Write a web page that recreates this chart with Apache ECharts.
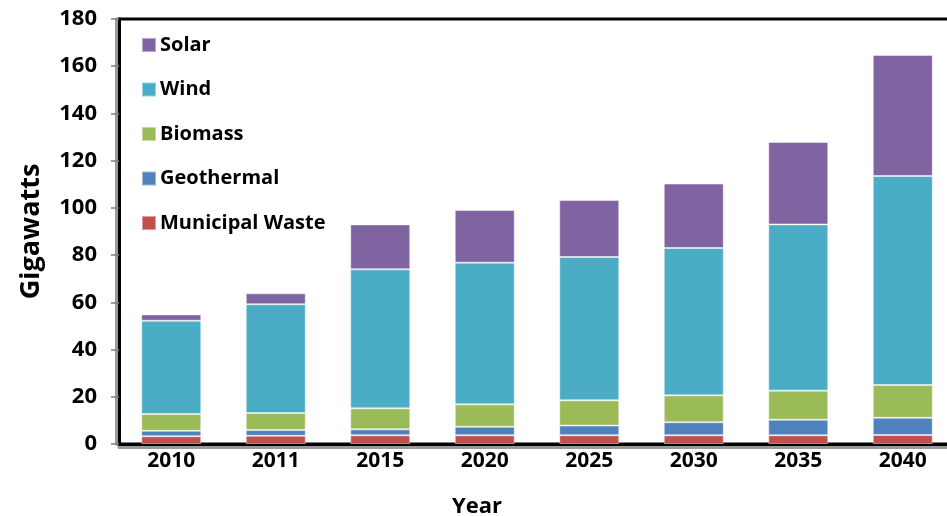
<!DOCTYPE html>
<html>
<head>
<meta charset="utf-8">
<script src="https://cdn.jsdelivr.net/npm/echarts@6/dist/echarts.min.js"></script>
<style>
  html, body { margin: 0; padding: 0; background: #fff; }
  #chart { width: 947px; height: 516px; }
</style>
</head>
<body>
<div id="chart"></div>
<script>
// Renewable generating capacity by source (gigawatts)
const years = ['2010', '2011', '2015', '2020', '2025', '2030', '2035', '2040'];
const municipalWaste = [3.3, 3.5, 3.7, 3.7, 3.7, 3.7, 3.7, 3.8];
const geothermal     = [2.3, 2.4, 2.5, 3.6, 4.1, 5.5, 6.6, 7.3];
const biomass        = [7.1, 7.2, 8.9, 9.5, 10.7, 11.4, 12.3, 13.9];
const wind           = [39.5, 46.1, 58.9, 60.0, 60.7, 62.4, 70.4, 88.5];
const solar          = [2.7, 4.6, 19.0, 22.3, 24.1, 27.3, 34.9, 51.3];
const yTicks = { min: 0, max: 180, step: 20 };

const FONT = 'Open Sans';

const sources = [
  { name: 'Municipal Waste', data: municipalWaste, color: '#C0504D' },
  { name: 'Geothermal',      data: geothermal,     color: '#4F81BD' },
  { name: 'Biomass',         data: biomass,        color: '#9BBB59' },
  { name: 'Wind',            data: wind,           color: '#4BACC6' },
  { name: 'Solar',           data: solar,          color: '#8064A2' }
];

const chart = echarts.init(document.getElementById('chart'), null, { renderer: 'canvas' });

chart.setOption({
  animation: false,
  backgroundColor: '#fff',
  textStyle: { fontFamily: FONT },
  grid: {
    left: 119, right: -8, top: 19, bottom: 72,
    outerBoundsMode: 'none',
    containLabel: false,
    show: true, borderColor: '#000', borderWidth: 3, backgroundColor: 'transparent'
  },
  legend: {
    orient: 'vertical',
    left: 136, top: 30,
    itemGap: 24.5,
    itemWidth: 14, itemHeight: 14,
    icon: 'rect',
    data: ['Solar', 'Wind', 'Biomass', 'Geothermal', 'Municipal Waste'],
    textStyle: { fontFamily: FONT, fontWeight: 'bold', fontSize: 20, color: '#000', padding: [0, 0, 0, -1] }
  },
  graphic: [{
    type: 'text', left: 452, top: 496,
    style: { text: 'Year', font: 'bold 22px "Open Sans"', fill: '#000' }
  }],
  xAxis: {
    type: 'category',
    data: years,
    axisLine: { show: true, lineStyle: { color: '#000', width: 3, shadowColor: '#999', shadowOffsetY: 3, shadowBlur: 0 } },
    axisTick: { show: false },
    axisLabel: { fontFamily: FONT, fontWeight: 'bold', fontSize: 21, color: '#000', margin: 7 }
  },
  yAxis: {
    type: 'value',
    min: yTicks.min, max: yTicks.max, interval: yTicks.step,
    name: 'Gigawatts',
    nameLocation: 'middle',
    nameGap: 74,
    nameTextStyle: { fontFamily: FONT, fontWeight: 'bold', fontSize: 27, color: '#000' },
    axisLine: { show: true, lineStyle: { color: '#000', width: 3, shadowColor: '#999', shadowOffsetX: -3, shadowBlur: 0 } },
    axisTick: { show: true, inside: false, length: 8, lineStyle: { color: '#808080', width: 1.5 } },
    splitLine: { show: false },
    axisLabel: { fontFamily: FONT, fontWeight: 'bold', fontSize: 22, color: '#000', margin: 22 }
  },
  series: sources.map(s => ({
    name: s.name,
    type: 'bar',
    stack: 'capacity',
    barWidth: 60,
    data: s.data,
    itemStyle: { color: s.color, borderColor: 'rgba(255,255,255,0.45)', borderWidth: 1 },
    emphasis: { disabled: true }
  }))
});
</script>
</body>
</html>
